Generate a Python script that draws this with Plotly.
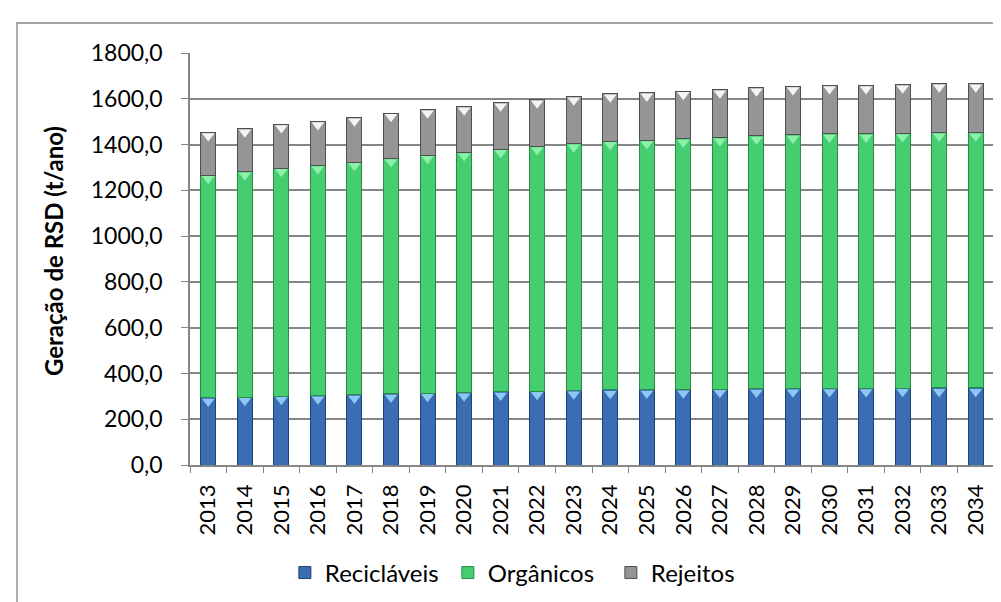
import plotly.graph_objects as go

anos = [str(a) for a in range(2013, 2035)]
reciclaveis = [293.5, 297.0, 300.6, 303.2, 306.6, 310.5, 313.7, 316.3, 319.8, 322.4, 325.2,
               327.8, 328.7, 330.0, 331.3, 333.1, 334.1, 335.1, 335.1, 335.7, 336.5, 336.5]
organicos = [973.5, 984.8, 996.9, 1005.7, 1017.1, 1029.8, 1040.5, 1049.3, 1060.6, 1069.3, 1078.7,
             1087.5, 1090.0, 1094.8, 1098.8, 1104.8, 1108.2, 1111.5, 1111.5, 1113.6, 1116.3, 1116.3]
rejeitos = [186.0, 188.2, 190.5, 192.1, 194.3, 196.7, 198.8, 200.4, 202.6, 204.3, 206.1,
            207.7, 208.3, 209.2, 209.9, 211.1, 211.7, 212.4, 212.4, 212.7, 213.2, 213.2]

series = [
    ("Recicláveis", reciclaveis, "#3A6DB4", "#1F426E", "#8CC8F4"),
    ("Orgânicos", organicos, "#45CE6F", "#2A8A48", "#8CF0AA"),
    ("Rejeitos", rejeitos, "#959595", "#4F4F4F", "#F4F4F4"),
]

FONT = "Lato"
fig = go.Figure()
base = [0.0] * len(anos)
for nome, vals, cor, borda, brilho in series:
    fig.add_trace(go.Bar(
        x=anos, y=vals, name=nome,
        marker=dict(color=cor, line=dict(color=borda, width=1)),
    ))
    base = [b + v for b, v in zip(base, vals)]
    # bevel highlight at the top of each segment
    fig.add_trace(go.Scatter(
        x=anos, y=[b - 16 for b in base], mode="markers", showlegend=False,
        hoverinfo="skip",
        marker=dict(symbol="triangle-down", size=11, color=brilho, line=dict(width=0)),
    ))

fig.update_layout(
    barmode="stack",
    bargap=0.59,
    width=1001, height=602,
    margin=dict(l=182, r=15, t=45, b=145),
    paper_bgcolor="white", plot_bgcolor="white",
    separators=",.",
    font=dict(family=FONT, size=23, color="black"),
    showlegend=True,
    legend=dict(orientation="h", x=0.118, xanchor="left", y=-0.262, yanchor="middle",
                font=dict(size=24), traceorder="normal", itemwidth=30,
                entrywidth=118, entrywidthmode="pixels"),
    xaxis=dict(
        type="category", tickangle=-90, showgrid=False, automargin=False,
        range=[-0.5, len(anos) - 0.5],
        showline=True, linecolor="#868686", linewidth=1.5,
        ticks="outside", tickson="boundaries", ticklen=6, tickcolor="#868686",
        tickfont=dict(size=22), ticklabelstandoff=9,
    ),
    yaxis=dict(
        range=[0, 1800], dtick=200, tickformat=".1f", automargin=False,
        showgrid=True, gridcolor="#868686", gridwidth=1.5,
        showline=True, linecolor="#868686", linewidth=1.5,
        ticks="outside", ticklen=7, tickcolor="#868686",
        tickfont=dict(size=23), zeroline=False, ticklabelstandoff=14,
    ),
    annotations=[dict(
        text="<b>Geração de RSD (t/ano)</b>", textangle=-90,
        xref="paper", yref="paper", x=-0.170, y=0.52,
        xanchor="center", yanchor="middle", showarrow=False,
        font=dict(size=24, family=FONT),
    )],
    shapes=[dict(
        type="rect", xref="paper", yref="paper",
        x0=-0.2152, y0=1.0728, x1=1.03, y1=-0.40,
        line=dict(color="#868686", width=1.3), layer="below",
    )],
)

fig.write_html("out.html")
